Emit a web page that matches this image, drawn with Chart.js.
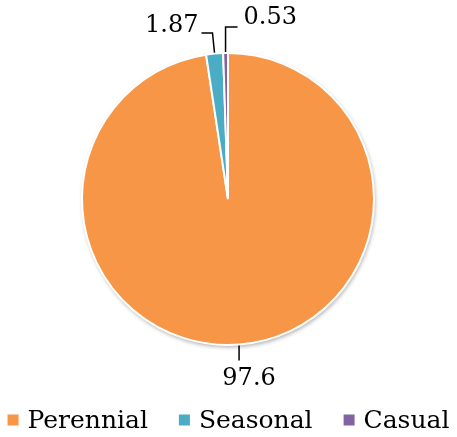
<!DOCTYPE html>
<html lang="en">

<head>
  <title></title>
  <style>
    body { margin: 0; background: #fff; }
    #wrap { width: 457px; height: 437px; }
  </style>
</head>

<body>
  <div id="wrap"><canvas id="myChart"></canvas></div>
  <script src="https://cdn.jsdelivr.net/npm/chart.js@4/dist/chart.umd.min.js"></script>
  <script>
    var categories = ['Perennial', 'Seasonal', 'Casual'];
    var shares = [97.6, 1.87, 0.53];
    var valueLabels = ['97.6', '1.87', '0.53'];
    var colors = ['#F79646', '#4BACC6', '#8064A2'];

    var FONT = 'DejaVu Serif';

    // soft shadow under the pie
    var shadowPlugin = {
      id: 'pieShadow',
      beforeDatasetsDraw: function (chart) {
        var arc = chart.getDatasetMeta(0).data[0];
        if (!arc) return;
        var c = chart.ctx;
        c.save();
        c.shadowColor = 'rgba(0,0,0,0.35)';
        c.shadowBlur = 4;
        c.shadowOffsetX = 1;
        c.shadowOffsetY = 2;
        c.fillStyle = '#fff';
        c.beginPath();
        c.arc(arc.x, arc.y, arc.outerRadius, 0, Math.PI * 2);
        c.fill();
        c.restore();
      }
    };

    // value labels with leader lines
    var labelPlugin = {
      id: 'valueLabels',
      afterDatasetsDraw: function (chart) {
        var c = chart.ctx;
        var arcs = chart.getDatasetMeta(0).data;
        c.save();
        c.strokeStyle = '#000';
        c.lineWidth = 1.5;
        c.fillStyle = '#000';
        c.font = '24px "' + FONT + '"';
        c.textBaseline = 'middle';
        arcs.forEach(function (arc, i) {
          var mid = (arc.startAngle + arc.endAngle) / 2;
          var r = arc.outerRadius + 1;
          var x = arc.x + Math.cos(mid) * r;
          var y = arc.y + Math.sin(mid) * r;
          c.beginPath();
          c.moveTo(x, y);
          if (i === 0) {
            c.lineTo(x, y + 15);
            c.stroke();
            c.textAlign = 'center';
            c.fillText(valueLabels[i], x + 10, y + 33);
          } else if (i === 1) {
            c.lineTo(x - 2, 33);
            c.lineTo(x - 13, 33);
            c.stroke();
            c.textAlign = 'right';
            c.fillText(valueLabels[i], x - 16, 26);
          } else {
            c.lineTo(x, 27);
            c.lineTo(x + 12, 27);
            c.stroke();
            c.textAlign = 'left';
            c.fillText(valueLabels[i], x + 18, 18);
          }
        });
        c.restore();
      }
    };

    // legend row at the bottom
    var legendPlugin = {
      id: 'bottomLegend',
      afterDraw: function (chart) {
        var c = chart.ctx;
        c.save();
        c.font = '25px "' + FONT + '"';
        c.textBaseline = 'middle';
        c.textAlign = 'left';
        var box = 11, gap = 9, itemGap = 31;
        var widths = categories.map(function (t) { return c.measureText(t).width; });
        var total = 0;
        widths.forEach(function (w) { total += box + gap + w; });
        total += itemGap * (categories.length - 1);
        var x = (chart.width - total) / 2;
        var y = 421;
        categories.forEach(function (t, i) {
          c.fillStyle = colors[i];
          c.fillRect(x, y - box / 2 - 1, box, box);
          c.fillStyle = '#000';
          c.fillText(t, x + box + gap, y);
          x += box + gap + widths[i] + itemGap;
        });
        c.restore();
      }
    };

    var ctx = document.getElementById('myChart').getContext('2d');
    var chart = new Chart(ctx, {
      type: 'pie',
      data: {
        labels: categories,
        datasets: [{
          data: shares,
          backgroundColor: colors,
          borderColor: '#fff',
          borderWidth: 2,
          radius: 146
        }]
      },
      options: {
        responsive: true,
        maintainAspectRatio: false,
        animation: false,
        layout: { padding: { top: 10, bottom: 49, left: 0, right: 1 } },
        plugins: {
          legend: { display: false },
          tooltip: { enabled: false }
        }
      },
      plugins: [shadowPlugin, labelPlugin, legendPlugin]
    });
  </script>
</body>

</html>
